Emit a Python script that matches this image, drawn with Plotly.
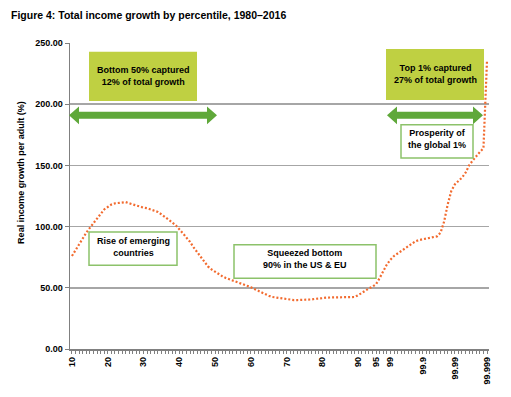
import plotly.graph_objects as go

# ---- data ----
percentiles = [str(p) for p in range(10, 100)] + \
    ["99.1", "99.2", "99.3", "99.4", "99.5", "99.6", "99.7", "99.8", "99.9"] + \
    ["99.91", "99.92", "99.93", "99.94", "99.95", "99.96", "99.97", "99.98", "99.99"] + \
    ["99.991", "99.992", "99.993", "99.994", "99.995", "99.996", "99.997", "99.998", "99.999"]

growth = [
    76, 81, 86, 90, 95, 99, 103, 107, 111, 114,            # 10-19
    116, 118, 119, 119.5, 120, 120, 119, 118, 117, 116,    # 20-29
    115.5, 115, 114, 113, 112, 110, 108, 106, 103.5, 101,  # 30-39
    98, 94.5, 91, 87.5, 83, 79, 75, 71, 67.5, 65,          # 40-49
    63, 61, 59.5, 58, 57, 55.5, 54.5, 53.5, 52.5, 51.5,    # 50-59
    50.5, 49, 47.5, 46, 44.5, 43.5, 42.5, 42, 42, 41.5,    # 60-69
    41, 40.5, 40, 40, 40, 40, 40, 40.5, 41, 41,            # 70-79
    41.5, 42, 42, 42, 42, 42, 42, 42, 42, 42.5,            # 80-89
    44, 46, 48, 49.5, 51, 53, 58, 64, 69, 73,              # 90-99
    76, 78, 80, 82, 84, 86, 88, 89, 89.5,                  # 99.1-99.9
    90, 90.5, 91, 92, 95, 104, 118, 129, 134.5,            # 99.91-99.99
    137, 140, 144, 150, 154, 158, 161, 164, 236,           # 99.991-99.999
]

tick_labels = ["10", "20", "30", "40", "50", "60", "70", "80", "90", "95", "99",
               "99.9", "99.99", "99.999"]
y_ticks = [0, 50, 100, 150, 200, 250]

title = "Figure 4: Total income growth by percentile, 1980–2016"
y_title = "Real income growth per adult (%)"

# ---- layout helpers (pixel -> paper) ----
W, H = 511, 397
L, R, T, B = 70, 22, 43, 43
PW, PH = W - L - R, H - T - B


def px(x):
    return (x - L) / PW


def py(y):
    return (H - B - y) / PH


FONT = "Liberation Sans, Arial, sans-serif"
ORANGE = "#F26B2F"
LIME = "#BFD042"
GREEN = "#5FA83A"
BORDER = "#8CC26A"
GRID = "#A6A6A6"

fig = go.Figure()
fig.add_trace(go.Scatter(
    x=percentiles, y=growth, mode="lines",
    line=dict(color=ORANGE, width=2.2, dash="2px,2px"),
    hoverinfo="skip", showlegend=False,
))

n = len(percentiles)
fig.update_layout(
    width=W, height=H, autosize=False,
    margin=dict(l=L, r=R, t=T, b=B, pad=0),
    paper_bgcolor="white", plot_bgcolor="white",
    font=dict(family=FONT, color="black"),
    showlegend=False,
    xaxis=dict(
        type="category", range=[-0.55, n - 0.45],
        tickmode="array", tickvals=percentiles,
        ticktext=[p if p in tick_labels else "" for p in percentiles],
        tickangle=-90, ticks="outside", ticklen=3, tickcolor="#808080", tickwidth=1,
        tickfont=dict(size=9, family=FONT, weight="bold"),
        showline=True, linecolor="#808080", linewidth=1.5,
        showgrid=False, zeroline=False, fixedrange=True,
    ),
    yaxis=dict(
        range=[0, 250], tickmode="array", tickvals=y_ticks,
        ticktext=[f"{v:.2f}" for v in y_ticks],
        ticks="outside", ticklen=4, tickcolor="#808080",
        tickfont=dict(size=9, family=FONT, weight="bold"),
        showline=True, linecolor="#808080", linewidth=1.5,
        showgrid=True, gridcolor=GRID, gridwidth=1.5, zeroline=False,
        fixedrange=True,
    ),
)


def arrow_path(x1, x2, yc, h=10, hh=9, s=3.5):
    pts = [(x1, yc), (x1 + h, yc - hh), (x1 + h, yc - s), (x2 - h, yc - s),
           (x2 - h, yc - hh), (x2, yc), (x2 - h, yc + hh), (x2 - h, yc + s),
           (x1 + h, yc + s), (x1 + h, yc + hh)]
    return "M " + " L ".join(f"{px(a):.5f},{py(b):.5f}" for a, b in pts) + " Z"


shapes = [
    dict(type="rect", xref="paper", yref="paper", x0=px(89), x1=px(197), y0=py(102), y1=py(52),
         fillcolor=LIME, line=dict(width=0)),
    dict(type="rect", xref="paper", yref="paper", x0=px(386), x1=px(484), y0=py(101), y1=py(49),
         fillcolor=LIME, line=dict(width=0)),
    dict(type="path", xref="paper", yref="paper", path=arrow_path(69, 217, 116.5),
         fillcolor=GREEN, line=dict(width=0)),
    dict(type="path", xref="paper", yref="paper", path=arrow_path(387, 483, 116.5),
         fillcolor=GREEN, line=dict(width=0)),
    dict(type="rect", xref="paper", yref="paper", x0=px(401), x1=px(473), y0=py(160), y1=py(126),
         fillcolor="white", line=dict(color=BORDER, width=1.5)),
    dict(type="rect", xref="paper", yref="paper", x0=px(89), x1=px(177), y0=py(269), y1=py(235),
         fillcolor="white", line=dict(color=BORDER, width=1.5)),
    dict(type="rect", xref="paper", yref="paper", x0=px(234), x1=px(376), y0=py(282), y1=py(248),
         fillcolor="white", line=dict(color=BORDER, width=1.5)),
]
fig.update_layout(shapes=shapes)

bfont = dict(size=9, family=FONT, color="black", weight="bold")
notes = [
    (143, 77, "Bottom 50% captured<br>12% of total growth"),
    (435, 75, "Top 1% captured<br>27% of total growth"),
    (437, 141, "Prosperity of<br>the global 1%"),
    (133, 250, "Rise of emerging<br>countries"),
    (305, 262.5, "Squeezed bottom<br>90% in the US & EU"),
]
annotations = [
    dict(xref="paper", yref="paper", x=px(x), y=py(y), text=t, showarrow=False,
         xanchor="center", yanchor="middle", align="center", font=bfont)
    for x, y, t in notes
]
annotations.append(dict(xref="paper", yref="paper", x=px(9), y=py(15), text=title,
                        showarrow=False, xanchor="left", yanchor="middle",
                        font=dict(size=10.5, family=FONT, color="black", weight="bold")))
annotations.append(dict(xref="paper", yref="paper", x=px(21), y=py(175), text=y_title,
                        showarrow=False, xanchor="center", yanchor="middle", textangle=-90,
                        font=dict(size=9, family=FONT, color="black", weight="bold")))
fig.update_layout(annotations=annotations)

fig.write_html(
    "out.html",
    config={"displayModeBar": False, "staticPlot": True},
    post_script="document.body.style.margin='0';document.body.style.overflow='hidden';",
)
